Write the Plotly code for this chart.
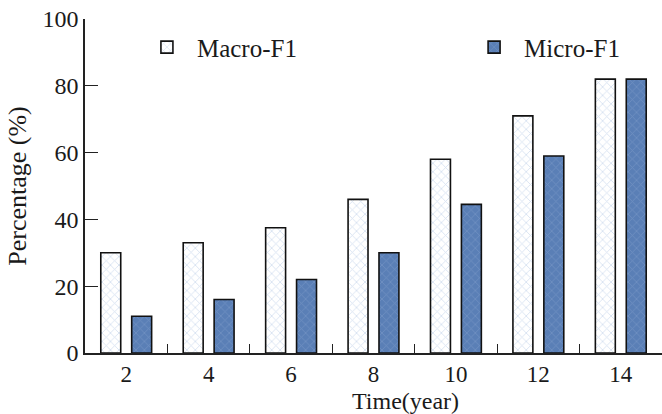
import plotly.graph_objects as go

years = ["2", "4", "6", "8", "10", "12", "14"]
macro_f1 = [30, 33, 37.5, 46, 58, 71, 82]
micro_f1 = [11, 16, 22, 30, 44.5, 59, 82]

FONT = "Liberation Serif"

fig = go.Figure()
fig.add_trace(go.Bar(
    x=years, y=macro_f1, name="Macro-F1", legend="legend",
    marker=dict(color="white", line=dict(color="#111", width=1.6),
                pattern=dict(shape="x", fgcolor="#a9c1e2", bgcolor="white", size=6, solidity=0.25)),
))
fig.add_trace(go.Bar(
    x=years, y=micro_f1, name="Micro-F1", legend="legend2",
    marker=dict(color="#5a7fb6", line=dict(color="#111", width=1.6),
                pattern=dict(shape="x", fgcolor="#86a2cf", bgcolor="#5a7fb6", size=6, solidity=0.25)),
))

leg_common = dict(orientation="h", yanchor="middle", xanchor="left", itemwidth=50,
                  font=dict(family=FONT, size=25, color="#1a1a1a"), bgcolor="rgba(0,0,0,0)")

fig.update_layout(
    width=662, height=414,
    margin=dict(l=85, r=0, t=19, b=61),
    plot_bgcolor="white", paper_bgcolor="white",
    bargap=0.25, bargroupgap=0.355,
    font=dict(family=FONT, size=24, color="#1a1a1a"),
    showlegend=True,
    legend=dict(x=0.09, y=0.915, **leg_common),
    legend2=dict(x=0.657, y=0.915, **leg_common),
    annotations=[dict(text="Time(year)", xref="paper", yref="paper", x=0.556, y=-0.143,
                      xanchor="center", yanchor="middle", showarrow=False,
                      font=dict(family=FONT, size=24, color="#1a1a1a"))],
)
fig.update_xaxes(
    type="category", range=[-0.5, 6.5],
    showline=True, linecolor="#222", linewidth=1.5,
    ticks="inside", tickson="boundaries", ticklen=9, tickwidth=1.3, tickcolor="#222",
    showgrid=False, zeroline=False,
    tickfont=dict(family=FONT, size=23),
)
fig.update_yaxes(
    range=[0, 100], tickvals=[0, 20, 40, 60, 80, 100],
    showline=True, linecolor="#222", linewidth=1.5,
    ticks="inside", ticklen=13, tickwidth=1.3, tickcolor="#222",
    showgrid=False, zeroline=False,
    tickfont=dict(family=FONT, size=24),
    title=dict(text="Percentage (%)", font=dict(family=FONT, size=26), standoff=8),
)

fig.write_html("out.html")
